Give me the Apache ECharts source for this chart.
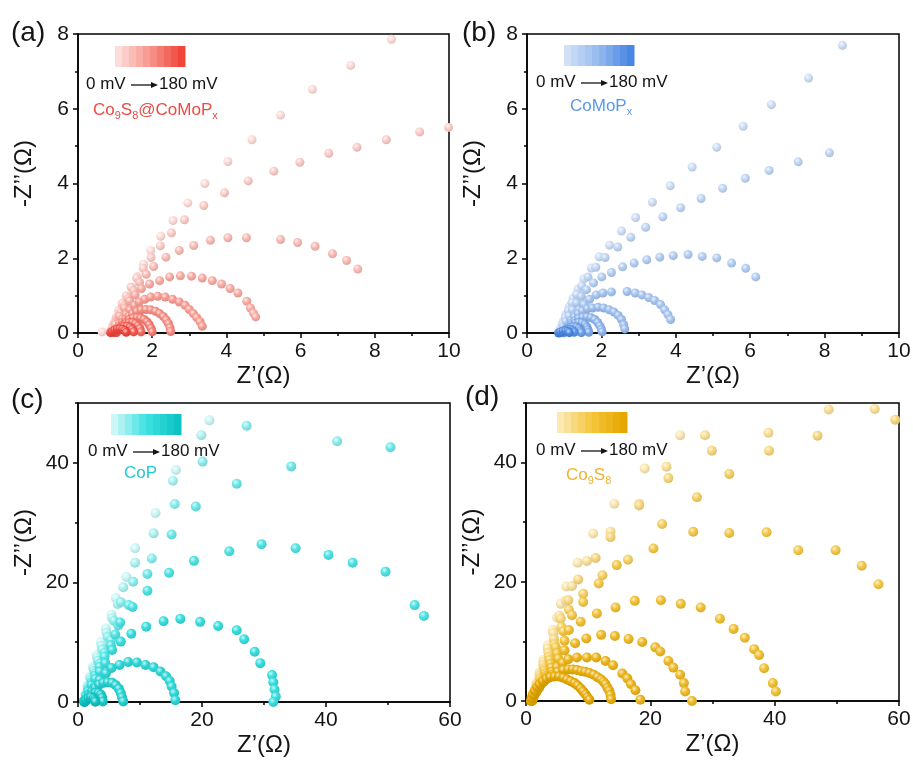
<!DOCTYPE html>
<html>
<head>
<meta charset="utf-8">
<script src="https://cdn.jsdelivr.net/npm/echarts@6/dist/echarts.min.js"></script>
<style>
  html, body { margin: 0; padding: 0; background: #fff; }
  #chart { width: 913px; height: 760px; }
</style>
</head>
<body>
<div id="chart"></div>
<script>
// Nyquist data, one array per applied potential (0 mV ... 180 mV), [Z', -Z''] in ohm.

// (a) Co9S8@CoMoPx
const A0 = [[0.65,0.03],[0.87,0.04],[0.93,0.18],[1.01,0.34],[1.1,0.52],[1.2,0.73],[1.32,0.96],[1.45,1.22],[1.6,1.51],[1.77,1.84],[1.96,2.21],[2.23,2.59],[2.56,3.01],[2.96,3.48],[3.42,4.0],[4.04,4.59],[4.69,5.17],[5.46,5.83],[6.32,6.52],[7.35,7.16],[8.45,7.86]];
const A1 = [[0.88,0.02],[0.92,0.12],[0.97,0.26],[1.03,0.42],[1.1,0.6],[1.19,0.79],[1.3,1.0],[1.43,1.23],[1.58,1.47],[1.76,1.73],[1.97,2.02],[2.22,2.33],[2.52,2.68],[2.87,3.03],[3.39,3.41],[3.95,3.75],[4.59,4.07],[5.28,4.33],[5.98,4.57],[6.76,4.81],[7.52,4.97],[8.31,5.17],[9.21,5.38],[9.99,5.5]];
const A2 = [[0.9,0.03],[0.95,0.14],[1.01,0.27],[1.08,0.41],[1.16,0.56],[1.25,0.73],[1.36,0.92],[1.5,1.13],[1.66,1.35],[1.84,1.57],[2.04,1.78],[2.37,2.03],[2.73,2.21],[3.12,2.34],[3.57,2.48],[4.04,2.55],[4.54,2.55],[5.46,2.5],[5.92,2.42],[6.39,2.32],[6.86,2.12],[7.24,1.94],[7.54,1.71]];
const A3 = [[0.91,0.04],[1.0,0.22],[1.12,0.45],[1.25,0.67],[1.39,0.86],[1.54,1.02],[1.71,1.19],[1.93,1.31],[2.2,1.4],[2.47,1.5],[2.76,1.53],[3.06,1.52],[3.35,1.47],[3.62,1.4],[3.87,1.31],[4.1,1.19],[4.31,1.07],[4.55,0.85],[4.65,0.67],[4.73,0.53],[4.79,0.43]];
const A4 = [[0.98,0.04],[1.05,0.14],[1.12,0.25],[1.2,0.37],[1.3,0.5],[1.4,0.62],[1.52,0.74],[1.65,0.83],[1.8,0.9],[1.96,0.96],[2.15,0.98],[2.35,0.96],[2.55,0.9],[2.73,0.83],[2.89,0.74],[3.0,0.63],[3.11,0.52],[3.2,0.41],[3.29,0.3],[3.35,0.18]];
const A5 = [[1.02,0.02],[1.07,0.1],[1.13,0.19],[1.2,0.28],[1.28,0.37],[1.37,0.45],[1.47,0.52],[1.58,0.58],[1.7,0.62],[1.83,0.63],[1.96,0.62],[2.09,0.58],[2.2,0.52],[2.3,0.44],[2.38,0.35],[2.44,0.25],[2.48,0.14],[2.5,0.04]];
const A6 = [[1.04,0.01],[1.09,0.08],[1.15,0.15],[1.22,0.23],[1.3,0.3],[1.39,0.36],[1.49,0.4],[1.59,0.41],[1.69,0.4],[1.78,0.36],[1.86,0.3],[1.92,0.22],[1.97,0.13],[2.0,0.03]];
const A7 = [[1.03,0.02],[1.08,0.08],[1.14,0.14],[1.21,0.2],[1.29,0.25],[1.38,0.28],[1.47,0.28],[1.55,0.25],[1.62,0.19],[1.67,0.12],[1.7,0.03]];
const A8 = [[0.98,0.01],[1.03,0.06],[1.09,0.11],[1.16,0.15],[1.24,0.18],[1.32,0.18],[1.4,0.15],[1.46,0.1],[1.5,0.03]];
const A9 = [[0.88,0.01],[0.93,0.04],[0.99,0.08],[1.06,0.1],[1.13,0.11],[1.2,0.1],[1.26,0.07],[1.3,0.02]];

// (b) CoMoPx
const B0 = [[0.86,0.02],[0.91,0.14],[0.97,0.3],[1.04,0.49],[1.13,0.7],[1.24,0.93],[1.37,1.18],[1.53,1.45],[1.73,1.74],[1.94,2.04],[2.22,2.35],[2.54,2.73],[2.92,3.09],[3.37,3.5],[3.85,3.94],[4.44,4.44],[5.1,4.97],[5.81,5.53],[6.57,6.11],[7.57,6.82],[8.48,7.7]];
const B1 = [[0.9,0.09],[0.96,0.24],[1.03,0.41],[1.11,0.6],[1.21,0.81],[1.33,1.03],[1.47,1.26],[1.64,1.5],[1.85,1.76],[2.1,2.02],[2.44,2.3],[2.79,2.56],[3.19,2.83],[3.65,3.11],[4.13,3.35],[4.68,3.6],[5.26,3.87],[5.87,4.14],[6.51,4.35],[7.29,4.58],[8.13,4.82]];
const B2 = [[0.92,0.04],[0.98,0.17],[1.05,0.31],[1.13,0.46],[1.22,0.62],[1.33,0.8],[1.46,0.98],[1.6,1.16],[1.79,1.34],[2.01,1.5],[2.27,1.62],[2.57,1.77],[2.88,1.87],[3.22,1.96],[3.57,2.03],[3.93,2.07],[4.33,2.1],[4.71,2.05],[5.1,2.01],[5.5,1.87],[5.88,1.73],[6.15,1.5]];
const B3 = [[0.98,0.05],[1.07,0.17],[1.17,0.31],[1.28,0.46],[1.4,0.61],[1.53,0.76],[1.68,0.9],[1.86,1.02],[2.04,1.07],[2.27,1.1],[2.69,1.11],[2.91,1.07],[3.09,1.02],[3.27,0.95],[3.43,0.87],[3.59,0.76],[3.7,0.62],[3.79,0.49],[3.86,0.36]];
const B4 = [[0.98,0.02],[1.04,0.12],[1.11,0.22],[1.19,0.33],[1.28,0.43],[1.38,0.52],[1.49,0.59],[1.62,0.65],[1.76,0.67],[1.91,0.69],[2.06,0.67],[2.21,0.62],[2.34,0.56],[2.45,0.47],[2.54,0.36],[2.6,0.22],[2.63,0.11]];
const B5 = [[1.0,0.02],[1.05,0.1],[1.12,0.18],[1.2,0.26],[1.29,0.33],[1.39,0.39],[1.5,0.42],[1.61,0.43],[1.72,0.41],[1.82,0.36],[1.9,0.28],[1.96,0.19],[2.0,0.1],[2.02,0.03]];
const B6 = [[1.0,0.01],[1.06,0.08],[1.13,0.15],[1.21,0.21],[1.3,0.26],[1.39,0.28],[1.48,0.27],[1.56,0.23],[1.61,0.16],[1.64,0.09],[1.66,0.02]];
const B7 = [[0.96,0.01],[1.02,0.06],[1.09,0.11],[1.17,0.15],[1.25,0.17],[1.33,0.16],[1.4,0.12],[1.44,0.06],[1.46,0.01]];
const B8 = [[0.9,0.01],[0.96,0.04],[1.03,0.07],[1.1,0.09],[1.17,0.09],[1.23,0.06],[1.27,0.02]];
const B9 = [[0.85,0.0],[0.9,0.03],[0.97,0.05],[1.04,0.06],[1.1,0.04],[1.14,0.01]];

// (c) CoP
const C0 = [[1.0,0.3],[1.2,1.4],[1.5,2.7],[1.9,4.2],[2.4,5.9],[3.0,7.8],[3.7,10.0],[4.5,12.3],[5.4,14.6],[6.1,17.4],[7.8,20.9],[9.2,25.7],[12.5,31.6],[15.8,38.8],[21.2,47.1]];
const C1 = [[1.0,0.2],[1.3,1.3],[1.6,2.6],[2.0,4.0],[2.5,5.6],[3.1,7.4],[3.8,9.4],[4.6,11.6],[5.5,14.0],[6.4,16.4],[7.3,19.2],[9.2,23.3],[12.2,28.2],[15.3,37.0],[19.9,44.6]];
const C2 = [[1.0,0.2],[1.3,1.2],[1.7,2.4],[2.1,3.7],[2.6,5.2],[3.2,6.9],[3.9,8.8],[4.8,10.9],[5.8,13.6],[6.9,16.7],[8.9,20.1],[11.9,24.0],[15.6,33.1],[20.1,40.2],[27.2,46.2],[41.8,43.6]];
const C3 = [[1.0,0.2],[1.3,1.1],[1.7,2.2],[2.2,3.4],[2.8,4.8],[3.5,6.4],[4.3,8.2],[5.3,10.3],[6.5,12.8],[8.2,16.2],[11.2,21.4],[15.1,28.0],[19.0,32.7],[25.6,36.5],[34.4,39.4],[50.4,42.6]];
const C4 = [[1.0,0.2],[1.3,1.0],[1.7,2.0],[2.2,3.1],[2.8,4.4],[3.5,5.9],[4.3,7.6],[5.3,9.5],[6.0,11.3],[6.8,13.3],[8.8,15.9],[11.2,18.6],[14.7,21.6],[18.7,23.6],[24.4,25.2],[29.6,26.4],[35.1,25.7],[40.4,24.6],[44.3,23.3],[49.6,21.8],[54.3,16.2],[55.8,14.4]];
const C5 = [[1.0,0.2],[1.3,0.9],[1.7,1.8],[2.2,2.8],[2.8,3.9],[3.5,5.1],[4.4,6.5],[5.5,8.7],[6.9,10.1],[8.6,11.4],[11.0,12.6],[13.8,13.5],[16.5,13.9],[19.7,13.4],[22.6,12.7],[25.6,12.0],[26.8,10.5],[28.5,8.4],[29.4,6.5],[31.3,4.5],[31.5,3.3],[31.7,2.1],[31.9,0.9],[31.5,0.0]];
const C6 = [[1.1,0.1],[1.5,0.6],[2.0,1.5],[2.7,2.6],[3.5,3.7],[4.5,4.8],[5.4,5.7],[6.7,6.2],[8.1,6.7],[9.5,6.6],[10.9,6.2],[12.2,5.8],[13.3,5.1],[14.2,4.3],[14.8,3.5],[15.1,2.6],[15.5,1.5],[15.7,0.3]];
const C7 = [[1.1,0.1],[1.4,0.6],[1.8,1.2],[2.3,1.8],[2.8,2.4],[3.4,2.9],[4.1,3.2],[4.8,3.3],[5.5,3.2],[6.1,2.8],[6.6,2.2],[6.9,1.5],[7.1,0.8],[7.3,0.1]];
const C8 = [[1.1,0.05],[1.4,0.4],[1.8,0.8],[2.3,1.2],[2.8,1.5],[3.3,1.5],[3.7,1.2],[3.9,0.7],[4.0,0.1]];
const C9 = [[1.0,0.0],[1.3,0.3],[1.7,0.6],[2.1,0.8],[2.5,0.6],[2.7,0.3],[2.8,0.05]];

// (d) Co9S8
const D0 = [[1.0,0.2],[1.3,1.5],[1.7,3.0],[2.2,4.8],[2.8,6.9],[3.5,9.3],[4.3,11.9],[5.0,14.0],[5.6,16.3],[6.5,19.2],[8.3,23.2],[10.8,28.1],[14.2,33.1],[19.1,39.0],[24.8,44.6]];
const D1 = [[1.0,0.2],[1.3,1.4],[1.7,2.8],[2.2,4.5],[2.8,6.5],[3.5,8.8],[4.4,11.4],[5.4,14.3],[6.4,16.8],[7.4,19.3],[9.8,23.5],[13.6,28.4],[18.2,33.1],[22.6,39.3],[28.8,44.6],[39.0,45.0],[48.7,48.9],[56.1,49.0]];
const D2 = [[1.0,0.2],[1.3,1.3],[1.7,2.6],[2.2,4.2],[2.8,6.0],[3.6,8.1],[4.5,10.4],[5.6,13.8],[6.8,16.9],[8.4,20.4],[11.2,24.0],[13.6,27.5],[18.2,32.8],[22.9,37.4],[29.9,42.0],[39.1,42.0],[46.9,44.5],[59.4,47.2]];
const D3 = [[1.0,0.1],[1.3,1.2],[1.7,2.4],[2.2,3.8],[2.9,5.5],[3.7,7.4],[4.6,9.5],[5.7,12.4],[6.9,15.3],[9.2,18.0],[12.3,21.1],[16.4,23.7],[21.9,29.7],[27.5,34.2],[32.7,38.1]];
const D4 = [[1.0,0.1],[1.3,1.1],[1.7,2.2],[2.3,3.5],[3.0,5.1],[3.8,6.9],[4.8,9.0],[6.0,11.7],[7.4,14.4],[9.2,16.6],[11.7,19.7],[14.6,22.8],[20.5,25.6],[26.9,28.4],[32.7,28.2],[38.7,28.3],[43.8,25.3],[49.8,25.3],[54.0,22.7],[56.7,19.6]];
const D5 = [[1.0,0.1],[1.3,1.0],[1.8,2.0],[2.4,3.2],[3.1,4.6],[4.0,6.2],[5.0,8.0],[6.2,10.1],[6.9,11.9],[8.8,13.3],[11.4,14.7],[14.4,15.7],[17.5,16.8],[21.7,16.9],[24.9,16.3],[28.1,15.7],[31.2,13.8],[33.4,12.1],[35.2,10.6],[36.7,8.7],[37.5,7.7],[38.3,5.5],[39.7,3.0],[40.2,1.6]];
const D6 = [[1.0,0.1],[1.3,0.9],[1.8,1.8],[2.4,2.9],[3.2,4.2],[4.1,5.6],[5.2,7.1],[6.2,8.5],[7.9,9.7],[9.7,10.5],[12.1,11.1],[14.3,10.9],[16.5,10.4],[18.7,9.9],[20.8,9.0],[21.6,8.3],[22.9,6.7],[23.7,5.6],[24.8,4.4],[25.4,3.0],[25.6,1.6],[26.7,0.0]];
const D7 = [[1.0,0.1],[1.2,0.7],[1.6,1.4],[2.1,2.2],[2.7,3.1],[3.4,4.0],[4.2,4.9],[5.0,5.7],[5.9,6.4],[6.8,7.0],[8.2,7.3],[9.8,7.3],[11.3,7.3],[12.8,6.7],[14.0,6.0],[15.5,4.6],[16.3,3.8],[16.9,2.8],[17.6,1.8],[18.4,0.2]];
const D8 = [[0.9,0.0],[1.1,0.6],[1.4,1.2],[1.8,1.9],[2.3,2.6],[2.9,3.3],[3.6,3.9],[4.3,4.4],[5.1,4.9],[6.0,5.2],[6.8,5.3],[7.5,5.3],[8.2,5.2],[8.9,5.0],[9.5,4.9],[10.2,4.7],[10.9,4.4],[11.5,4.0],[12.1,3.6],[12.5,3.2],[12.8,2.8],[13.1,2.2],[13.4,1.7],[13.6,1.0],[13.7,0.3]];
const D9 = [[0.8,0.0],[0.9,0.5],[1.1,1.1],[1.4,1.7],[1.8,2.3],[2.2,2.8],[2.7,3.3],[3.3,3.7],[3.9,4.0],[4.6,4.1],[5.3,4.1],[6.0,3.9],[6.6,3.6],[7.2,3.3],[7.8,3.0],[8.3,2.6],[8.8,2.1],[9.2,1.6],[9.6,1.1],[9.9,0.6],[10.2,0.2]];

const panelA = [A0, A1, A2, A3, A4, A5, A6, A7, A8, A9];
const panelB = [B0, B1, B2, B3, B4, B5, B6, B7, B8, B9];
const panelC = [C0, C1, C2, C3, C4, C5, C6, C7, C8, C9];
const panelD = [D0, D1, D2, D3, D4, D5, D6, D7, D8, D9];

const xTicksAB = [0, 10, 2];   // min, max, interval
const yTicksAB = [0, 8, 2];
const xTicksCD = [0, 60, 20];
const yLabelsCD = [0, 20, 40];
const yMinorCD = [10, 30, 50];

const FONT = '"Liberation Sans", Arial, sans-serif';
const INK = '#141414';

// colour ramps (light -> mid -> dark) for the ten potentials
const ramps = [
  ['#FDDDD9', '#F7958B', '#F2453A'],
  ['#CFE0F7', '#93B9EE', '#4A86E4'],
  ['#CDF7F7', '#3EE2E2', '#0EC3C3'],
  ['#FBE8B2', '#F5C53C', '#E6A800']
];
const labelColors = ['#EE4A42', '#5C98E9', '#1ECDCD', '#F0B22A'];

function hexRgb(h) { h = h.replace('#', ''); return [0, 2, 4].map(i => parseInt(h.substr(i, 2), 16)); }
function mixRgb(a, b, t) { return a.map((v, i) => v + (b[i] - v) * t); }
function css(c) { return 'rgb(' + c.map(v => Math.round(v)).join(',') + ')'; }
function rampColors(r, n) {
  const L = hexRgb(r[0]), M = hexRgb(r[1]), D = hexRgb(r[2]);
  const out = [];
  for (let k = 0; k < n; k++) {
    const t = k / (n - 1);
    out.push(t < 0.5 ? mixRgb(L, M, t * 2) : mixRgb(M, D, (t - 0.5) * 2));
  }
  return out;
}
// shaded ball look for each marker
function sphere(c) {
  return {
    type: 'radial', x: 0.38, y: 0.34, r: 0.68,
    colorStops: [
      { offset: 0, color: css(mixRgb(c, [255, 255, 255], 0.75)) },
      { offset: 0.45, color: css(c) },
      { offset: 1, color: css(mixRgb(c, [0, 0, 0], 0.12)) }
    ]
  };
}

const grids = [
  { left: 78, top: 34, width: 371, height: 299 },
  { left: 527, top: 34, width: 372, height: 299 },
  { left: 78, top: 403, width: 372, height: 299 },
  { left: 526, top: 403, width: 373, height: 298 }
].map(g => Object.assign(g, { show: true, borderColor: '#000', borderWidth: 1.5, backgroundColor: 'transparent', outerBoundsMode: 'none' }));

const lineStyle = { color: '#000', width: 1.5 };
function xAxis(gi, t) {
  return {
    type: 'value', gridIndex: gi, min: t[0], max: t[1], interval: t[2],
    name: 'Z\u2019(\u03A9)', nameLocation: 'middle', nameGap: 31,
    nameTextStyle: { fontSize: 24, fontFamily: FONT, color: INK },
    axisLine: { show: true, onZero: false, lineStyle },
    axisTick: { show: true, length: 5, lineStyle },
    minorTick: { show: true, splitNumber: 2, length: 3, lineStyle },
    axisLabel: { fontSize: 21, fontFamily: FONT, color: INK, margin: 8, showMinLabel: true, showMaxLabel: true, hideOverlap: false },
    splitLine: { show: false }, minorSplitLine: { show: false }
  };
}
const yName = {
  name: '-Z\u2019\u2019(\u03A9)', nameLocation: 'middle', nameGap: 42,
  nameTextStyle: { fontSize: 24, fontFamily: FONT, color: INK, padding: [0, 0, 0, 20] }
};
function yAxisAB(gi) {
  return Object.assign({
    type: 'value', gridIndex: gi, min: yTicksAB[0], max: yTicksAB[1], interval: yTicksAB[2],
    axisLine: { show: true, onZero: false, lineStyle },
    axisTick: { show: true, length: 5, lineStyle },
    minorTick: { show: true, splitNumber: 2, length: 3, lineStyle },
    axisLabel: { fontSize: 21, fontFamily: FONT, color: INK, margin: 9, showMinLabel: true, showMaxLabel: true, hideOverlap: false },
    splitLine: { show: false }, minorSplitLine: { show: false }
  }, yName);
}
function yAxisCD(gi) {
  return Object.assign({
    type: 'value', gridIndex: gi, min: 0, max: 50, interval: 10,
    axisLine: { show: true, onZero: false, lineStyle },
    axisTick: { show: true, length: 5, lineStyle, customValues: yLabelsCD },
    axisLabel: { fontSize: 21, fontFamily: FONT, color: INK, margin: 9, customValues: yLabelsCD, hideOverlap: false },
    splitLine: { show: false }
  }, yName);
}
function yMinorAxis(gi) {
  return {
    type: 'value', gridIndex: gi, min: 0, max: 50, interval: 10, position: 'left', offset: 0,
    axisLine: { show: false },
    axisTick: { show: true, length: 3, lineStyle, customValues: yMinorCD },
    axisLabel: { show: false }, splitLine: { show: false }
  };
}

const xAxes = [xAxis(0, xTicksAB), xAxis(1, xTicksAB), xAxis(2, xTicksCD), xAxis(3, xTicksCD)];
const yAxes = [yAxisAB(0), yAxisAB(1), yAxisCD(2), yMinorAxis(2), yAxisCD(3), yMinorAxis(3)];
const yIndexOf = [0, 1, 2, 4];

const panels = [panelA, panelB, panelC, panelD];
const symbolSizes = [9, 9, 10, 10];
const series = [];
const panelColors = [];
panels.forEach((curves, p) => {
  const cols = rampColors(ramps[p], curves.length);
  panelColors.push(cols);
  curves.forEach((data, k) => {
    series.push({
      type: 'scatter', xAxisIndex: p, yAxisIndex: yIndexOf[p],
      data, symbol: 'circle', symbolSize: symbolSizes[p], clip: false, silent: true,
      itemStyle: { color: sphere(cols[k]), opacity: 1 },
      z: 2 + k
    });
  });
});

// legend blocks: stripe bar, "0 mV -> 180 mV" and sample name
const legendPos = [
  { bar: [115, 46], row: 84, x0: 86, arrow: [131, 158], name: [93, 110] },
  { bar: [564, 45], row: 82, x0: 536, arrow: [581, 608], name: [570, 106] },
  { bar: [111, 414], row: 451, x0: 88, arrow: [133, 160], name: [124, 473] },
  { bar: [557, 412], row: 450, x0: 536, arrow: [581, 608], name: [566, 475] }
];
const sampleNames = ['Co{s|9}S{s|8}@CoMoP{s|x}', 'CoMoP{s|x}', 'CoP', 'Co{s|9}S{s|8}'];
const panelTags = [['(a)', 11, 33], ['(b)', 462, 33], ['(c)', 11, 400], ['(d)', 465, 397]];

const graphics = [];
panelTags.forEach(t => graphics.push({
  type: 'text', x: t[1], y: t[2], silent: true,
  style: { text: t[0], fontSize: 28, fontFamily: FONT, fill: INK, verticalAlign: 'middle' }
}));
legendPos.forEach((L, p) => {
  const cols = panelColors[p];
  const stripeW = 7;
  cols.forEach((c, k) => graphics.push({
    type: 'rect', silent: true,
    shape: { x: L.bar[0] + k * stripeW, y: L.bar[1], width: stripeW + 0.5, height: 21 },
    style: { fill: css(c) }
  }));
  graphics.push({
    type: 'text', x: L.x0, y: L.row, silent: true,
    style: { text: '0 mV', fontSize: 17, fontFamily: FONT, fill: INK, verticalAlign: 'middle' }
  });
  graphics.push({
    type: 'line', silent: true,
    shape: { x1: L.arrow[0], y1: L.row + 1, x2: L.arrow[1] - 5, y2: L.row + 1 },
    style: { stroke: INK, lineWidth: 1.3 }
  });
  graphics.push({
    type: 'polygon', silent: true,
    shape: { points: [[L.arrow[1] - 7, L.row - 2], [L.arrow[1], L.row + 1], [L.arrow[1] - 7, L.row + 4]] },
    style: { fill: INK }
  });
  graphics.push({
    type: 'text', x: L.arrow[1] + 1, y: L.row, silent: true,
    style: { text: '180 mV', fontSize: 17, fontFamily: FONT, fill: INK, verticalAlign: 'middle' }
  });
  graphics.push({
    type: 'text', x: L.name[0], y: L.name[1], silent: true,
    style: {
      text: sampleNames[p], fontSize: 17, fontFamily: FONT, fill: labelColors[p],
      lineHeight: 22, verticalAlign: 'middle',
      rich: { s: { fontSize: 11, fontFamily: FONT, fill: labelColors[p], verticalAlign: 'bottom', lineHeight: 12 } }
    }
  });
});

const chart = echarts.init(document.getElementById('chart'), null, { renderer: 'canvas' });
chart.setOption({
  animation: false,
  backgroundColor: '#fff',
  grid: grids,
  xAxis: xAxes,
  yAxis: yAxes,
  series,
  graphic: { elements: graphics }
});
</script>
</body>
</html>
